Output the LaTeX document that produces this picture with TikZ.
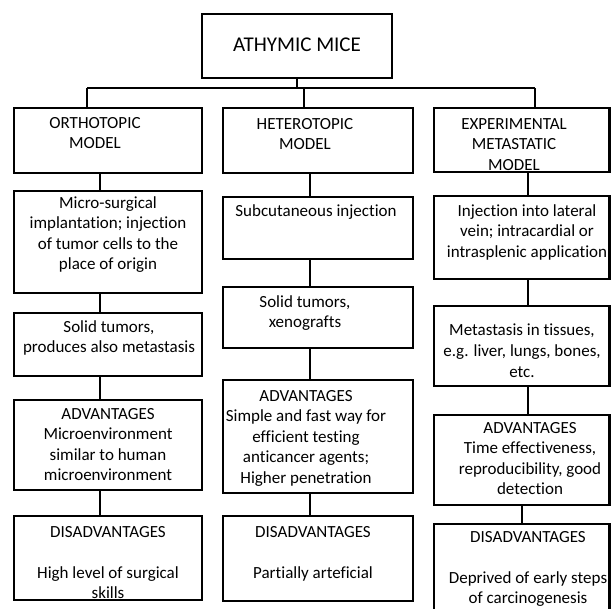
\documentclass[tikz,border=0pt]{standalone}
\usepackage{fontspec}
\setmainfont{Carlito}[Ligatures=NoCommon]
\usetikzlibrary{fit}
\begin{document}
\begin{tikzpicture}[x=0.75pt,y=-0.75pt]
\tikzstyle{every node}+=[inner sep=0pt]
\tikzstyle{box}=[draw=black, line width=2pt]
\tikzstyle{txt}=[anchor=north, align=center, font=\fontsize{12.75}{15.4}\selectfont]
\tikzstyle{wire}=[draw=black, line width=1.1pt]
\useasboundingbox (0,0) rectangle (611,608);
\node [box, fit={(202,14) (392,78)}] (mice) {};
\node [font=\fontsize{15.75}{18}\selectfont] (micet) at (297,44.5) {ATHYMIC MICE};
\node [box, fit={(14,108) (202,173)}] (o1) {};
\node [txt] (o1t) at (95,117) {ORTHOTOPIC\\MODEL};
\node [box, fit={(14,191) (202,293)}] (o2) {};
\node [txt] (o2t) at (108,196) {Micro-surgical\\implantation; injection\\of tumor cells to the\\place of origin};
\node [box, fit={(14,313) (202,376)}] (o3) {};
\node [txt] (o3t) at (109,320) {Solid tumors,\\produces also metastasis};
\node [box, fit={(14,400) (202,490)}] (o4) {};
\node [txt] (o4t) at (108,408) {ADVANTAGES\\Microenvironment\\similar to human\\microenvironment};
\node [box, fit={(14,516) (202,600)}] (o5) {};
\node [txt] (o5t) at (108,526) {DISADVANTAGES\\[15.4pt]High level of surgical\\skills};
\node [box, fit={(223,108) (413,173)}] (h1) {};
\node [txt] (h1t) at (305,118) {HETEROTOPIC\\MODEL};
\node [box, fit={(223,197) (413,259)}] (h2) {};
\node [txt] (h2t) at (316,204) {Subcutaneous injection};
\node [box, fit={(223,287) (413,348)}] (h3) {};
\node [txt] (h3t) at (305,295) {Solid tumors,\\xenografts};
\node [box, fit={(223,380) (413,493)}] (h4) {};
\node [txt] (h4t) at (306,390) {ADVANTAGES\\Simple and fast way for\\efficient testing\\anticancer agents;\\Higher penetration};
\node [box, fit={(223,516) (413,601)}] (h5) {};
\node [txt] (h5t) at (313,526) {DISADVANTAGES\\[15.4pt]Partially arteficial};
\node [box, fit={(434,108) (609.5,172)}] (e1) {};
\node [txt] (e1t) at (514,118) {EXPERIMENTAL\\METASTATIC\\MODEL};
\node [box, fit={(434,196) (609.5,279)}] (e2) {};
\node [txt] (e2t) at (527,204) {Injection into lateral\\vein; intracardial or\\intrasplenic application};
\node [box, fit={(434,306) (609.5,386)}] (e3) {};
\node [txt] (e3t) at (522,324) {Metastasis in tissues,\\e.g. liver, lungs, bones,\\etc.};
\node [box, fit={(434,415) (609.5,505)}] (e4) {};
\node [txt] (e4t) at (530,422) {ADVANTAGES\\Time effectiveness,\\reproducibility, good\\detection};
\node [box, fit={(434,524) (609.5,625)}] (e5) {};
\node [txt] (e5t) at (528,531) {DISADVANTAGES\\[15.4pt]Deprived of early steps\\of carcinogenesis};
\coordinate (busL) at (87,88);
\coordinate (busM) at (304,88);
\coordinate (busR) at (535,88);
\draw [wire] (mice.south) -- (mice.south |- busM);
\draw [wire] (busL) -- (busR);
\draw [wire] (busL) -- (busL |- o1.north);
\draw [wire] (busM) -- (busM |- h1.north);
\draw [wire] (busR) -- (busR |- e1.north);
\draw [wire] (o1.south -| 100,0) -- (o2.north -| 100,0);
\draw [wire] (o2.south -| 100,0) -- (o3.north -| 100,0);
\draw [wire] (o3.south -| 100,0) -- (o4.north -| 100,0);
\draw [wire] (o4.south -| 100,0) -- (o5.north -| 100,0);
\draw [wire] (h1.south -| 310,0) -- (h2.north -| 310,0);
\draw [wire] (h2.south -| 310,0) -- (h3.north -| 310,0);
\draw [wire] (h3.south -| 310,0) -- (h4.north -| 310,0);
\draw [wire] (h4.south -| 310,0) -- (h5.north -| 310,0);
\draw [wire] (e1.south -| 528,0) -- (e2.north -| 528,0);
\draw [wire] (e2.south -| 528,0) -- (e3.north -| 528,0);
\draw [wire] (e3.south -| 528,0) -- (e4.north -| 528,0);
\draw [wire] (e4.south -| 522,0) -- (e5.north -| 522,0);
\end{tikzpicture}
\end{document}
